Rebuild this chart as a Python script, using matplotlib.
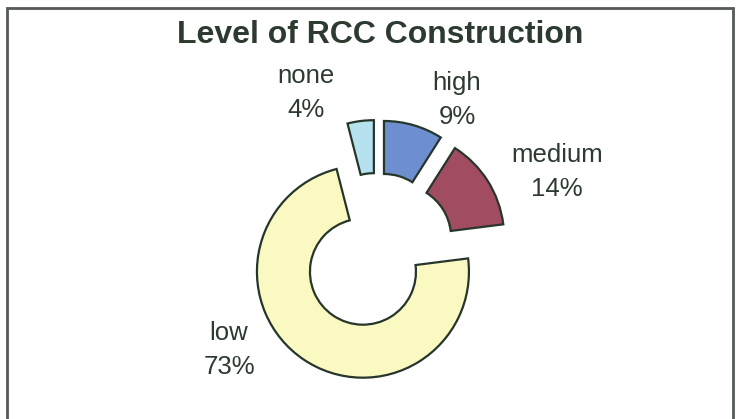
import matplotlib
matplotlib.use("Agg")
import matplotlib.pyplot as plt
from matplotlib.patches import Rectangle

plt.rcParams["font.family"] = ["Liberation Sans", "DejaVu Sans"]

categories = ["high", "medium", "low", "none"]
percents = [9, 14, 73, 4]
colors = ["#6d8fd0", "#a24c62", "#fbf9c2", "#b6e2f0"]

W, H = 742, 419
text_col = "#2c3a30"

fig = plt.figure(figsize=(W / 100, H / 100), dpi=100)
ax = fig.add_axes([0, 0, 1, 1])

# cadre gris autour du graphique
ax.add_patch(Rectangle((7, -10), 726, H - 8 + 10, fill=False,
                       edgecolor="#555a55", linewidth=2))

ax.text(380, H - 35, "Level of RCC Construction", ha="center", va="center",
        fontsize=23, fontweight="bold", color=text_col)

# explode est en unités absolues (px ici)
wedges, _ = ax.pie(percents, colors=colors, startangle=90, counterclock=False,
                   radius=106, center=(377, H - 251), explode=[25] * 4,
                   wedgeprops=dict(width=53, edgecolor="#26362a", linewidth=1.6),
                   frame=True)
ax.set_xlim(0, W)
ax.set_ylim(0, H)
ax.set_aspect("equal")
ax.axis("off")

# positions des étiquettes (px, origine en haut à gauche)
label_pos = [(457, 100), (557, 172), (229, 350), (306, 93)]
for cat, p, (x, y) in zip(categories, percents, label_pos):
    ax.text(x, H - y, f"{cat}\n{p}%", ha="center", va="center", fontsize=18.5,
            color=text_col, linespacing=1.5)

fig.savefig("out.png", dpi=100)
